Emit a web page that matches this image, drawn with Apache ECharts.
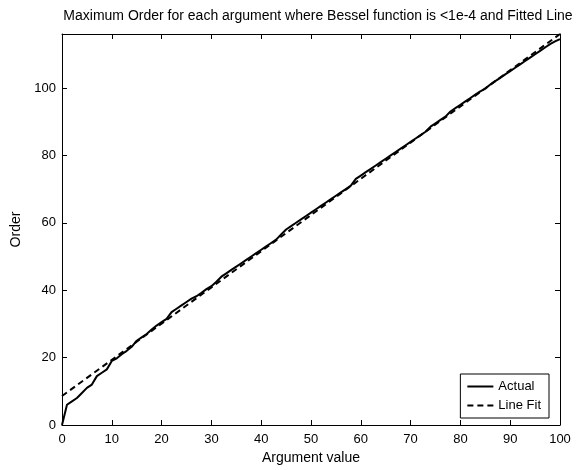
<!DOCTYPE html>
<html>
<head>
<meta charset="utf-8">
<script src="https://cdn.jsdelivr.net/npm/echarts@6/dist/echarts.min.js"></script>
<style>
  html, body { margin: 0; padding: 0; background: #fff; }
  #chart { width: 582px; height: 470px; }
</style>
</head>
<body>
<div id="chart"></div>
<script>
// argument values 0..100 and max order
const argX = [];
for (let i = 0; i <= 100; i++) argX.push(i);
const actualOrder = [
  0, 6, 7, 8, 9.5, 11, 12, 14.5, 15.5, 16.5,
  19, 19.8, 21, 22, 23.2, 25, 26, 27, 28.3, 29.5,
  30.5, 31.5, 33.5, 34.5, 35.5, 36.5, 37.5, 38.2, 39.2, 40.3,
  41.2, 42.5, 44, 45, 46, 47, 48, 49, 50, 51,
  52, 53, 54, 55, 56.5, 58, 59, 60, 61, 62,
  63, 64, 65, 66, 67, 68, 69, 70, 71, 73,
  74, 75, 76, 77, 78, 79, 80, 81, 82, 83,
  84, 85, 86, 87, 88.5, 89.5, 90.5, 91.5, 93, 94,
  95, 96, 97, 98, 99, 99.8, 101, 102, 103, 104,
  105, 106, 107, 108, 109, 110, 111, 112, 113, 113.8,
  114.5
];
// fitted line end points
const fitX = [0, 100];
const fitOrder = [8.6, 116];
const xTicks = [0, 10, 20, 30, 40, 50, 60, 70, 80, 90, 100];
const yTicks = [0, 20, 40, 60, 80, 100];

const font = "'Liberation Sans', Arial, sans-serif";
const chart = echarts.init(document.getElementById("chart"), null, { renderer: "canvas" });

const axisBase = {
  axisLine: { show: true, onZero: false, lineStyle: { color: "#000", width: 1 } },
  axisTick: { show: true, inside: true, length: 5, lineStyle: { color: "#000" } },
  splitLine: { show: false },
};

chart.setOption({
  backgroundColor: "#fff",
  animation: false,
  title: {
    text: "Maximum Order for each argument where Bessel function is <1e-4 and Fitted Line",
    left: 313, top: 4, textAlign: "center",
    textStyle: { fontFamily: font, fontSize: 14, fontWeight: "normal", color: "#000" },
  },
  grid: { left: 62, right: 22, top: 34, bottom: 45 },
  legend: {
    orient: "vertical",
    right: 33, top: 374,
    data: ["Actual", "Line Fit"],
    backgroundColor: "#fff",
    borderColor: "#000", borderWidth: 1,
    padding: [6, 8, 6, 6],
    itemGap: 6,
    itemWidth: 26, itemHeight: 12,
    itemStyle: { opacity: 0 },
    textStyle: { fontFamily: font, fontSize: 13, color: "#000" },
  },
  xAxis: [
    Object.assign({}, axisBase, {
      type: "value", min: 0, max: 100, interval: 10,
      name: "Argument value", nameLocation: "middle", nameGap: 26,
      nameTextStyle: { fontFamily: font, fontSize: 14, color: "#000" },
      axisLabel: { color: "#000", fontFamily: font, fontSize: 13, margin: 8,
        formatter: (v) => (xTicks.includes(v) ? String(v) : "") },
    }),
    Object.assign({}, axisBase, {
      type: "value", position: "top", min: 0, max: 100, interval: 10,
      axisLabel: { show: false },
    }),
  ],
  yAxis: [
    Object.assign({}, axisBase, {
      type: "value", min: 0, max: 116, interval: 20,
      name: "Order", nameLocation: "middle", nameGap: 37,
      nameTextStyle: { fontFamily: font, fontSize: 14, color: "#000" },
      axisLabel: { color: "#000", fontFamily: font, fontSize: 13, margin: 6,
        showMaxLabel: false,
        formatter: (v) => (yTicks.includes(v) ? String(v) : "") },
    }),
    Object.assign({}, axisBase, {
      type: "value", position: "right", min: 0, max: 116, interval: 20,
      axisLabel: { show: false },
    }),
  ],
  series: [
    {
      name: "Actual", type: "line", symbol: "none",
      data: argX.map((x, i) => [x, actualOrder[i]]),
      lineStyle: { color: "#000", width: 2 },
      itemStyle: { color: "#000" },
    },
    {
      name: "Line Fit", type: "line", symbol: "none",
      data: fitX.map((x, i) => [x, fitOrder[i]]),
      lineStyle: { color: "#000", width: 2, type: [6, 4] },
      itemStyle: { color: "#000" },
    },
  ],
});
</script>
</body>
</html>
